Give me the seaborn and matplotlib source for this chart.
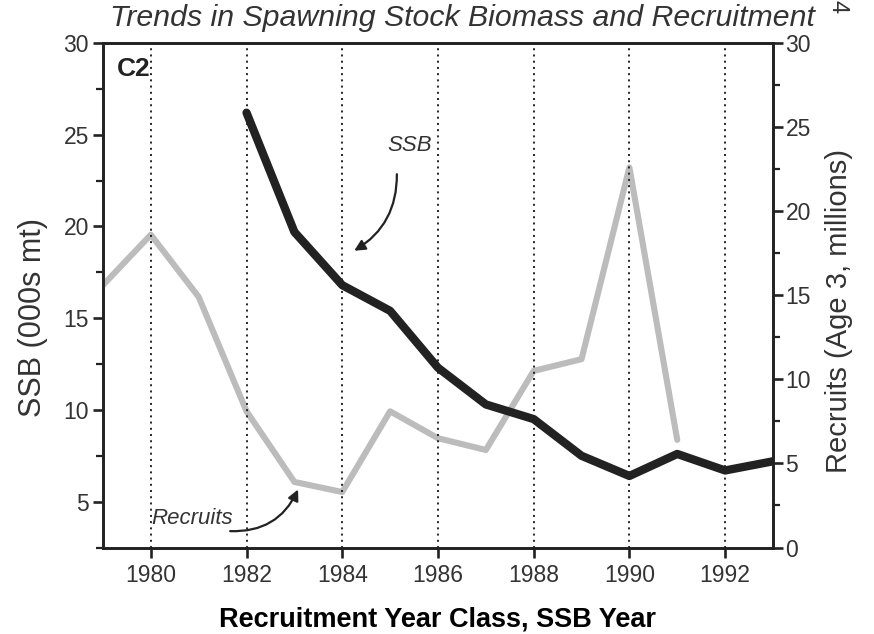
import matplotlib
matplotlib.use('Agg')
import matplotlib.pyplot as plt
from matplotlib.ticker import MultipleLocator
import seaborn as sns
import pandas as pd

# ── data ──
ssb_years = [1982, 1983, 1984, 1985, 1986, 1987, 1988, 1989, 1990, 1991, 1992, 1993]
ssb_vals = [26.2, 19.7, 16.8, 15.4, 12.3, 10.3, 9.5, 7.5, 6.4, 7.6, 6.7, 7.2]

rec_years = [1979, 1980, 1981, 1982, 1983, 1984, 1985, 1986, 1987, 1988, 1989, 1990, 1991]
rec_vals = [15.6, 18.6, 14.9, 8.1, 3.9, 3.3, 8.1, 6.5, 5.8, 10.5, 11.2, 22.6, 6.4]

x_ticks = [1980, 1982, 1984, 1986, 1988, 1990, 1992]

ssb = pd.DataFrame({'year': ssb_years, 'ssb': ssb_vals})
rec = pd.DataFrame({'year': rec_years, 'rec': rec_vals})

sns.set_style('ticks')
plt.rcParams['font.family'] = ['Liberation Sans', 'DejaVu Sans']
ink = '#222222'
grey_txt = '#333333'

fig = plt.figure(figsize=(8.74, 6.34), dpi=100)
ax = fig.add_axes([0.1178, 0.1364, 0.7666, 0.7958])
ax2 = ax.twinx()

# recruits (grey stippled) on right axis, SSB (heavy black) on left
sns.lineplot(data=rec, x='year', y='rec', ax=ax2, color='#bcbcbc', lw=4.4, zorder=2)
sns.lineplot(data=ssb, x='year', y='ssb', ax=ax, color=ink, lw=6, zorder=3)
ax.set_zorder(ax2.get_zorder() + 1)
ax.patch.set_visible(False)

ax.set_xlim(1979, 1993)
ax.set_ylim(2.5, 30)
ax2.set_ylim(0, 30)
ax.set_xticks(x_ticks)
ax.yaxis.set_major_locator(MultipleLocator(5))
ax.yaxis.set_minor_locator(MultipleLocator(2.5))
ax2.yaxis.set_major_locator(MultipleLocator(5))
ax2.yaxis.set_minor_locator(MultipleLocator(2.5))

ax.xaxis.grid(True, linestyle=(0, (1, 2.2)), color=ink, lw=1.4)

for a in (ax, ax2):
    for s in a.spines.values():
        s.set_linewidth(1.9)
        s.set_color(ink)
    a.tick_params(which='major', length=7, width=1.9, color=ink, labelsize=16.5, labelcolor=grey_txt)
    a.tick_params(which='minor', length=5, width=1.6, color=ink)
ax.tick_params(axis='x', pad=5)
ax.tick_params(axis='y', pad=3)
ax2.tick_params(axis='y', pad=2)

ax.set_xlabel('Recruitment Year Class, SSB Year', fontsize=19.5, weight='bold', color='black', labelpad=14)
ax.set_ylabel('SSB (000s mt)', fontsize=22, color=grey_txt)
ax2.set_ylabel('Recruits (Age 3, millions)', fontsize=21, color=grey_txt)
ax.yaxis.set_label_coords(-0.082, 0.455)
ax2.yaxis.set_label_coords(1.078, 0.469)

fig.text(0.5286, 1 - 18 / 634, 'Trends in Spawning Stock Biomass and Recruitment', fontsize=21.8,
         style='italic', color=grey_txt, ha='center', va='center')

ax.text(1979.3, 28.2, 'C2', fontsize=19, weight='bold', color=ink)
ax.text(1984.95, 24.1, 'SSB', fontsize=16, style='italic', color=grey_txt)
ax.text(1980.0, 3.8, 'Recruits', fontsize=16, style='italic', color=grey_txt)

ax.annotate('', xy=(1984.2, 18.6), xytext=(1985.14, 23.0),
            arrowprops=dict(arrowstyle='-|>', color=ink, lw=1.6,
                            connectionstyle='arc3,rad=-0.3', mutation_scale=16))
ax.annotate('', xy=(1983.1, 5.8), xytext=(1981.6, 3.4),
            arrowprops=dict(arrowstyle='-|>', color=ink, lw=1.6,
                            connectionstyle='arc3,rad=0.35', mutation_scale=16))

fig.text(0.958, 0.99, '4', fontsize=17, rotation=-90, color=grey_txt, ha='center', va='center')

fig.savefig('out.png', dpi=100)
